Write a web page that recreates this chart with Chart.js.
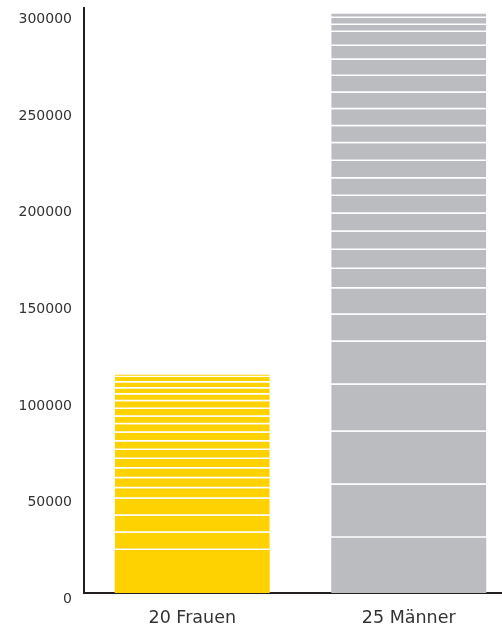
<!DOCTYPE html>
<html>
<head>
<meta charset="utf-8">
<script src="https://cdn.jsdelivr.net/npm/chart.js@4/dist/chart.umd.min.js"></script>
<style>
	html, body { margin: 0; padding: 0; background: #fff; overflow: hidden; }
	#wrap { width: 520px; height: 625px; }
</style>
</head>
<body>
<div id="wrap"><canvas id="chart"></canvas></div>
<script>
// --- Data (segments from bottom to top) ---
const categories = ["20 Frauen", "25 Männer"];
const frauenValues = [
	22200, 9000, 8800, 8800, 5400, 5200, 5000, 4900, 4700, 4400,
	4500, 4300, 4000, 4000, 3900, 3600, 3100, 3100, 2800, 1300,
];
const maennerValues = [
	28600, 27400, 27400, 24300, 22200, 14000, 13600, 10100, 9700, 9500,
	9300, 9200, 9100, 9000, 9100, 8900, 8800, 8500, 8600, 8400,
	7200, 7200, 3600, 3600, 2400,
];
const yTicks = [0, 50000, 100000, 150000, 200000, 250000, 300000];

const yellow = "#fdd200";
const grey = "#bbbcbf";
const textColor = "#333333";
const axisColor = "#231f20";

// one dataset per stacked segment
const datasets = maennerValues.map(function (val, i) {
	return {
		data: [i < frauenValues.length ? frauenValues[i] : null, val],
		backgroundColor: [yellow, grey],
		borderColor: "#ffffff",
		borderWidth: { top: 0, left: 0, right: 0, bottom: i === 0 ? 0 : 1.5 },
		borderSkipped: false,
		barPercentage: 0.716,
		categoryPercentage: 1,
		stack: "s",
	};
});

new Chart(document.getElementById("chart"), {
	type: "bar",
	data: { labels: categories, datasets: datasets },
	options: {
		responsive: true,
		maintainAspectRatio: false,
		animation: false,
		layout: { padding: { top: 8, right: 3, bottom: 0, left: 0 } },
		plugins: {
			legend: { display: false },
			tooltip: { enabled: false },
		},
		scales: {
			x: {
				stacked: true,
				grid: { display: false, drawTicks: false },
				border: { display: true, color: axisColor, width: 2 },
				afterFit: function (scale) {
					scale.height = 32;
				},
				ticks: {
					color: textColor,
					padding: 15,
					font: { family: "DejaVu Sans", size: 17.5 },
				},
			},
			y: {
				stacked: true,
				min: 0,
				max: 302500,
				grid: { display: false, drawTicks: false },
				border: { display: true, color: axisColor, width: 2 },
				afterBuildTicks: function (scale) {
					scale.ticks = yTicks.map((v) => ({ value: v }));
				},
				afterFit: function (scale) {
					// fixed axis box, no extra room for overhanging labels
					scale.width = 84;
					scale.paddingTop = 0;
					scale.paddingBottom = 0;
				},
				ticks: {
					color: textColor,
					padding: 12,
					labelOffset: 6.5,
					font: { family: "DejaVu Sans", size: 14 },
					callback: function (value) {
						return String(value);
					},
				},
			},
		},
	},
});
</script>
</body>
</html>
